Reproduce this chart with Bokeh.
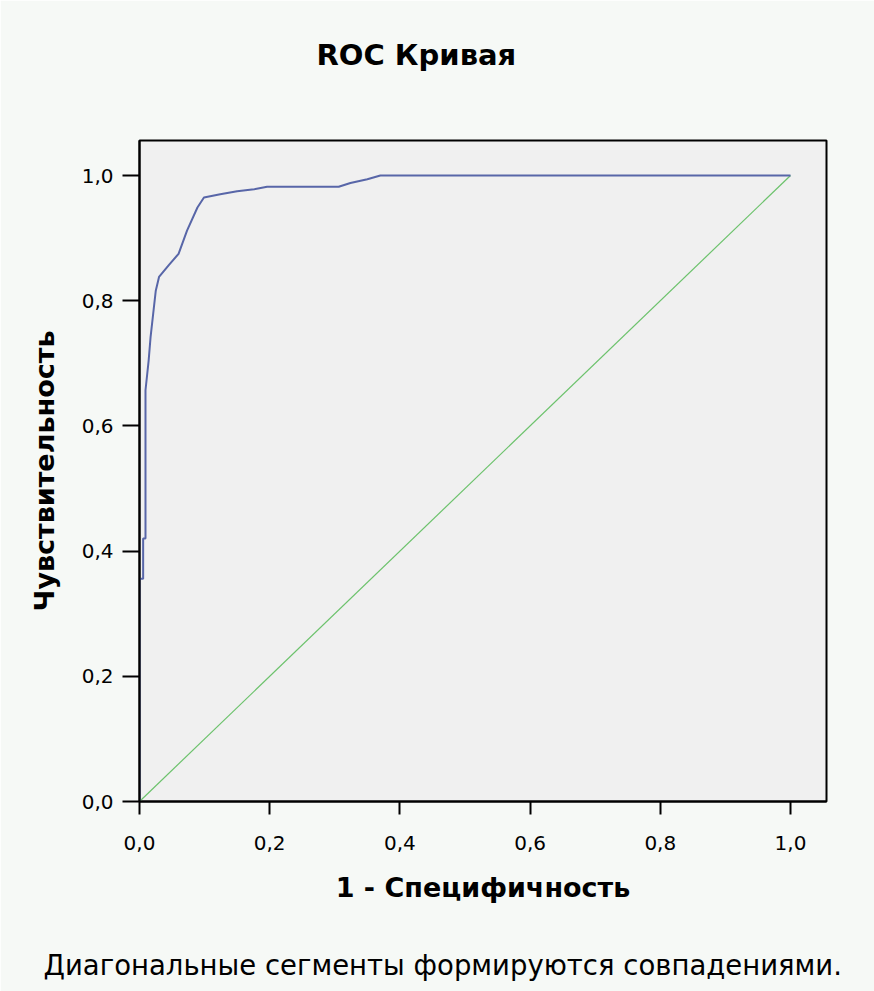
from bokeh.plotting import figure
from bokeh.models import Range1d, FixedTicker, Title, LinearAxis
from bokeh.embed import file_html
from bokeh.resources import INLINE

# ROC curve (1 - specificity, sensitivity)
fpr = [0.0, 0.0, 0.0056, 0.0056, 0.0092, 0.0092, 0.014, 0.017, 0.021, 0.025, 0.030,
       0.045, 0.060, 0.073, 0.089, 0.099, 0.124, 0.150, 0.176, 0.196, 0.306,
       0.324, 0.350, 0.370, 1.0]
tpr = [0.0, 0.356, 0.356, 0.420, 0.420, 0.657, 0.704, 0.742, 0.779, 0.816, 0.838,
       0.857, 0.875, 0.912, 0.949, 0.965, 0.970, 0.975, 0.978, 0.982, 0.982,
       0.988, 0.994, 1.0, 1.0]
ref_x = [0.0, 1.0]
ref_y = [0.0, 1.0]

tick_values = [0.0, 0.2, 0.4, 0.6, 0.8, 1.0]
tick_labels = ["0,0", "0,2", "0,4", "0,6", "0,8", "1,0"]

title_text = "ROC Кривая"
x_label = "1 - Специфичность"
y_label = "Чувствительность"
footnote = "Диагональные сегменты формируются совпадениями."

FONT = "DejaVu Sans"
PANEL = "#f6f9f6"

p = figure(width=874, height=991, output_backend="svg", toolbar_location=None,
           x_range=Range1d(0, 1.0553), y_range=Range1d(0, 1.056),
           min_border_left=139, min_border_top=140, min_border_right=48,
           min_border_bottom=190)
p.background_fill_color = "#f0f0f0"
p.border_fill_color = PANEL
p.outline_line_color = "black"
p.outline_line_width = 2
p.grid.visible = False

xax = p.xaxis[0]
yax = p.yaxis[0]

for ax in (xax, yax):
    ax.ticker = FixedTicker(ticks=tick_values)
    ax.major_label_overrides = {v: l for v, l in zip(tick_values, tick_labels)}
    ax.axis_line_color = "black"
    ax.axis_line_width = 2
    ax.major_tick_line_color = "black"
    ax.major_tick_line_width = 2
    ax.major_tick_in = 0
    ax.minor_tick_line_color = None
    ax.major_label_text_font = FONT
    ax.major_label_text_font_size = "20px"
    ax.major_label_text_color = "black"
    ax.axis_label_text_font = FONT
    ax.axis_label_text_font_style = "bold"
    ax.axis_label_text_color = "black"

xax.axis_label = x_label
xax.major_tick_out = 13
xax.major_label_standoff = 21
xax.axis_label_standoff = 19
xax.axis_label_text_font_size = "27px"

yax.axis_label = y_label
yax.major_tick_out = 17
yax.major_label_standoff = 9
yax.axis_label_standoff = 19
yax.axis_label_text_font_size = "27px"


def spacer(size):
    """A blank axis (invisible tick, empty label) that only reserves room."""
    return LinearAxis(ticker=FixedTicker(ticks=[0.0]), major_label_overrides={0.0: ""},
                      axis_line_color=None, major_tick_line_color=PANEL,
                      major_tick_line_alpha=0.0,
                      minor_tick_line_color=None, major_tick_out=size,
                      major_tick_in=0, minor_tick_out=0, major_label_standoff=0)


# above: spacer next to the frame, then the title
p.add_layout(spacer(69), "above")
p.add_layout(Title(text=title_text, align="left", offset=177, standoff=0,
                   text_font=FONT, text_font_size="29px", text_font_style="bold",
                   text_color="black"), "above")

# below: x axis, spacer, then the footnote
p.add_layout(spacer(41), "below")
p.add_layout(Title(text=footnote, align="left", offset=-96, standoff=0,
                   text_font=FONT, text_font_size="27.5px", text_font_style="normal",
                   text_color="black"), "below")

p.line(ref_x, ref_y, line_color="#6cc26c", line_width=1.2)
p.line(fpr, tpr, line_color="#5866a8", line_width=2)

open("out.html", "w").write(file_html(p, INLINE))
